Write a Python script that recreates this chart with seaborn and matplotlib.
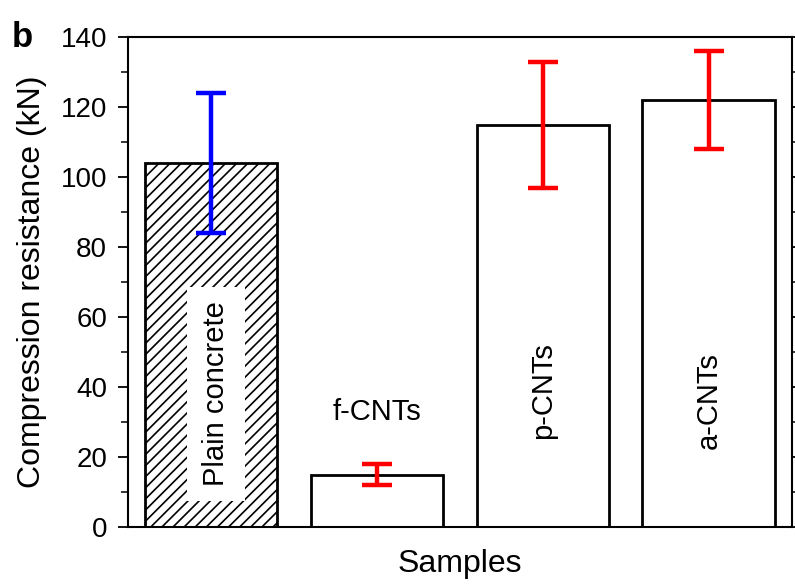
import matplotlib
matplotlib.use('Agg')
import matplotlib.pyplot as plt
from matplotlib.ticker import MultipleLocator
import seaborn as sns
import pandas as pd

samples = ['Plain concrete', 'f-CNTs', 'p-CNTs', 'a-CNTs']
resistance = [104, 15, 115, 122]
error = [20, 3, 18, 14]
error_colors = ['#0000ff', '#ff0000', '#ff0000', '#ff0000']
label_y = [38, 33, 39, 36]

sns.set_style('ticks')
plt.rcParams['font.family'] = ['Liberation Sans', 'DejaVu Sans']
plt.rcParams['hatch.linewidth'] = 1.2
plt.rcParams['text.color'] = 'black'
plt.rcParams['axes.labelcolor'] = 'black'
plt.rcParams['ytick.color'] = 'black'
plt.rcParams['axes.edgecolor'] = 'black'

df = pd.DataFrame({'sample': samples, 'resistance': resistance})

fig = plt.figure(figsize=(7.95, 5.84), dpi=100)
ax = fig.add_axes([0.161, 0.0976, 0.835, 0.839])

sns.barplot(data=df, x='sample', y='resistance', color='white', edgecolor='black',
            linewidth=2.0, width=0.8, errorbar=None, ax=ax)
ax.patches[0].set_hatch('///')

for i, (v, e, c) in enumerate(zip(resistance, error, error_colors)):
    ax.errorbar(i, v, yerr=e, color=c, elinewidth=3.2, capsize=11, capthick=3.2, zorder=5)

# labels inside the bars
for i, (name, y) in enumerate(zip(samples, label_y)):
    if name == 'f-CNTs':
        ax.text(i, y, name, ha='center', va='center', fontsize=21)
    elif name == 'Plain concrete':
        ax.text(i + 0.03, y, name, ha='center', va='center', rotation=90, fontsize=21,
                bbox=dict(facecolor='white', edgecolor='none', boxstyle='square,pad=0.5'), zorder=4)
    else:
        ax.text(i, y, name, ha='center', va='center', rotation=90, fontsize=21)

ax.set_xlim(-0.5, 3.5)
ax.set_ylim(0, 140)
ax.yaxis.set_major_locator(MultipleLocator(20))
ax.yaxis.set_minor_locator(MultipleLocator(10))
ax.tick_params(axis='y', which='major', length=7, width=1.3, labelsize=20, pad=8,
               right=True, direction='out')
ax.tick_params(axis='y', which='minor', length=5, width=1.1, right=True, direction='out')
ax.set_xticks([])
for s in ax.spines.values():
    s.set_linewidth(1.5)

ax.set_xlabel('Samples', fontsize=23, labelpad=16)
ax.set_ylabel('Compression resistance (kN)', fontsize=23, labelpad=10)
fig.text(0.015, 0.935, 'b', fontsize=25, fontweight='bold', va='center')

fig.savefig('out.png', dpi=100)
